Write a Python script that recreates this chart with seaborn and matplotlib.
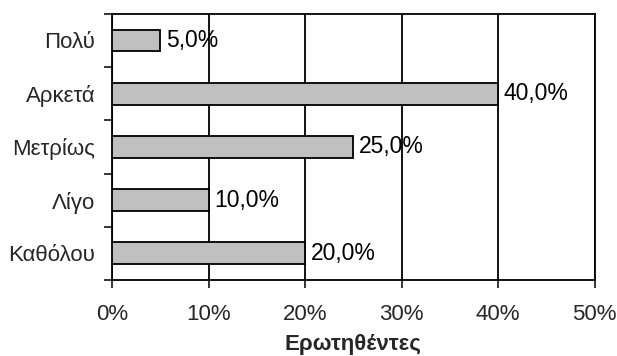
import numpy as np
import pandas as pd
import matplotlib.pyplot as plt
import seaborn as sns

# Data
categories = ['Πολύ', 'Αρκετά', 'Μετρίως', 'Λίγο', 'Καθόλου']
percentages = [5.0, 40.0, 25.0, 10.0, 20.0]
x_ticks = [0, 10, 20, 30, 40, 50]
x_label = 'Ερωτηθέντες'

sns.set_theme(style="white")
plt.rcParams['font.family'] = ['Liberation Sans', 'DejaVu Sans']
FS = 16

df = pd.DataFrame({'cat': categories, 'pct': percentages})

fig = plt.figure(figsize=(6.17, 3.56), dpi=100)
ax = fig.add_axes([0.1815, 0.2135, 0.7825, 0.7475])

sns.barplot(data=df, x='pct', y='cat', orient='h', color='#C0C0C0',
            saturation=1, width=0.41, edgecolor='black', linewidth=1.3, ax=ax,
            zorder=3)

ax.bar_label(ax.containers[0], labels=[f'{v:.1f}%'.replace('.', ',') for v in percentages],
             padding=4, fontsize=16.5, color='black')

ax.set_xlim(0, 50)
ax.set_ylim(len(categories) - 0.5, -0.5)
ax.set_xticks(x_ticks)
ax.set_xticklabels([f'{t}%' for t in x_ticks], fontsize=FS)

# category labels on minor ticks, tick marks at the boundaries
ax.set_yticks(np.arange(len(categories) + 1) - 0.5)
ax.set_yticklabels([])
ax.set_yticks(np.arange(len(categories)), minor=True)
ax.set_yticklabels(categories, minor=True, fontsize=FS)
ax.tick_params(axis='y', which='minor', length=0, pad=12)
ax.tick_params(axis='y', which='major', length=6, width=1.3, direction='out', left=True)
ax.tick_params(axis='x', length=6, width=1.3, direction='out', bottom=True, pad=11)

ax.grid(axis='x', color='black', linewidth=1.3, zorder=0)
ax.set_axisbelow(True)
for s in ax.spines.values():
    s.set_color('black')
    s.set_linewidth(1.3)

ax.set_ylabel('')
ax.set_xlabel(x_label, fontsize=FS, fontweight='bold', labelpad=7)

fig.savefig('out.png', dpi=100)
